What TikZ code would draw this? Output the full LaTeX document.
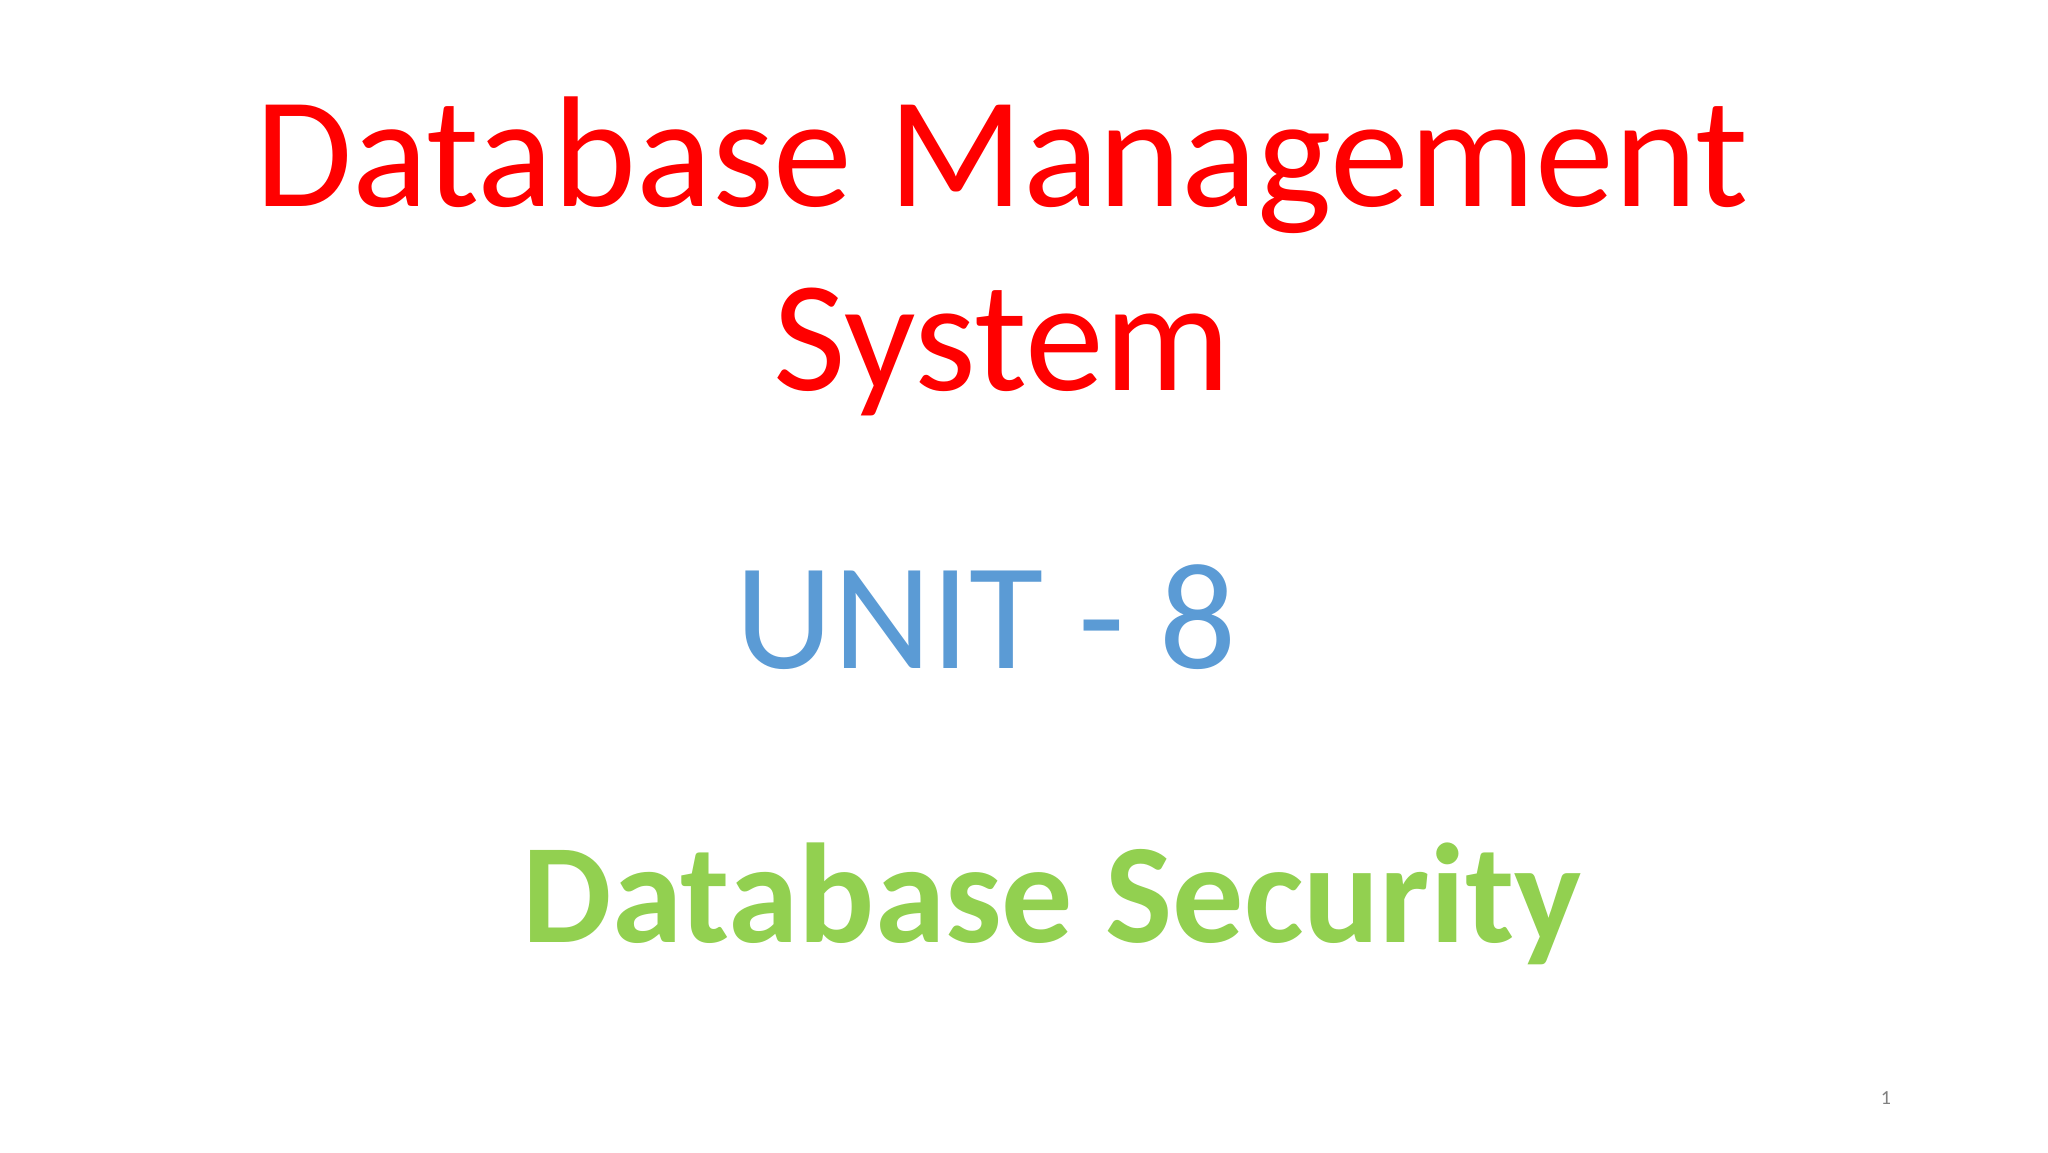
\documentclass[tikz,border=0pt]{standalone}
\usepackage{fontspec}
\setmainfont{Carlito}
\definecolor{tred}{HTML}{FF0000}
\definecolor{tblue}{HTML}{5B9BD5}
\definecolor{tgreen}{HTML}{92D050}
\begin{document}
\begin{tikzpicture}[x=1pt,y=1pt,txt/.style={anchor=base,inner sep=0pt}]
\useasboundingbox[fill=white] (0,0) rectangle (1024,-576);
\node[txt,text=tred,font=\fontsize{79}{90}\selectfont] (t1) at (501,-103) {Database Management};
\node[txt,text=tred,font=\fontsize{79}{90}\selectfont] (t2) at (501,-195) {System};
\node[txt,text=tblue,font=\fontsize{76}{90}\selectfont] (u) at (493,-334) {UNIT - 8};
\node[txt,text=tgreen,font=\bfseries\fontsize{71}{85}\selectfont] (s) at (526,-471) {Database Security};
\node[txt,text=gray,font=\fontsize{10}{12}\selectfont] (p) at (943,-552) {1};
\end{tikzpicture}
\end{document}
